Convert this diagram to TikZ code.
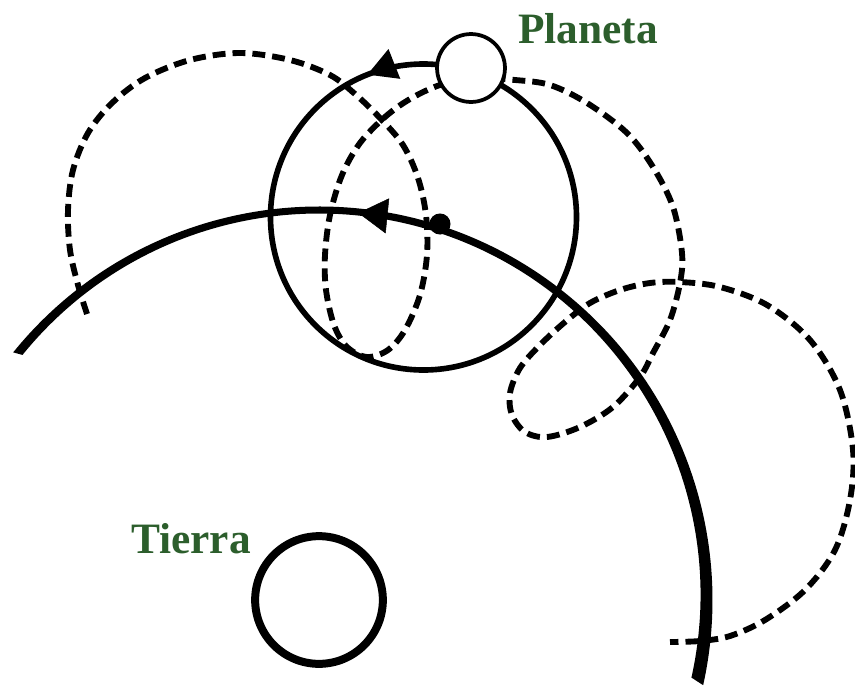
\documentclass[tikz,border=0pt]{standalone}
\usepackage{fontspec}
\setmainfont{Liberation Serif}
\usepackage{tikz}
\usetikzlibrary{arrows.meta,decorations.markings,calc}
\definecolor{verde}{RGB}{44,94,44}

\begin{document}
\begin{tikzpicture}[x=0.03cm, y=-0.03cm,
    epiciclo/.style={line width=4.8pt},
    orbita/.style={line width=5pt, dash pattern=on 11pt off 6pt},
    astro/.style={circle, draw, fill=white, inner sep=0pt},
    etiqueta/.style={text=verde, anchor=base, font=\fontsize{37}{40}\selectfont\bfseries}]
	\useasboundingbox (0,0) rectangle (855,689);
	\node[astro, line width=6.8pt, minimum size=109pt] (tierra) at (319,600) {};
	\coordinate (centro) at (423.5,217);
	\coordinate (centroint) at (319,595);
	
	% trayectoria del planeta
	\draw[orbita] plot[smooth, tension=0.55] coordinates {
		(87,314) (78,285) (70,250) (68,210) (73,170) (88,133) (112,103) (145,78)
		(190,60) (240,53) (290,60) (330,75) (355,94) (380,118) (403,145) (418,178)
		(426,215) (427,255) (420,295) (405,330) (388,350) (367,357) (347,347)
		(334,325) (326,290) (325,255) (330,215) (342,175) (360,143) (385,117)
		(410,99) (440,85) (475,78) (515,80) (550,85) (587,103) (627,133) (653,167)
		(673,207) (682,253) (680,283) (670,320) (653,353) (640,377) (613,407)
		(580,427) (547,437) (525,432) (512,415) (510,393) (520,368) (540,345)
		(565,322) (590,303) (620,290) (650,283) (680,282) (720,287) (767,305)
		(810,340) (840,390) (853,450) (850,500) (835,550) (805,590) (765,620)
		(730,636) (700,641) (670,642)};
	
	% deferente (mas gruesa hacia abajo)
	\fill (tierra.center) ++(-141:393.5) arc[start angle=-141, end angle=12.5, radius=393.5]
		-- ($(centroint)+(12.5:381.5)$) arc[start angle=12.5, end angle=-141, radius=381.5] -- cycle;
	\path[postaction={decorate, decoration={markings,
		mark=at position 0.37 with {\arrowreversed{Triangle[length=25pt,width=30pt]}}}}]
		(tierra.center) ++(-141:389) arc[start angle=-141, end angle=12.5, radius=389];
	
	% epiciclo
	\draw[epiciclo, postaction={decorate, decoration={markings,
		mark=at position 0.31 with {\arrow{Triangle[length=25pt,width=26pt]}}}}]
		(centro) ++(0:153) arc[start angle=0, end angle=-360, radius=153];
	
	\node[astro, line width=3.2pt, minimum size=58pt] (planeta) at (471,68) {};
	\node[circle, fill, inner sep=0pt, minimum size=18pt] (punto) at (440,224) {};
	
	\node[etiqueta] (lblplaneta) at (588,43) {Planeta};
	\node[etiqueta] (lbltierra) at (191,553) {Tierra};
\end{tikzpicture}
\end{document}
